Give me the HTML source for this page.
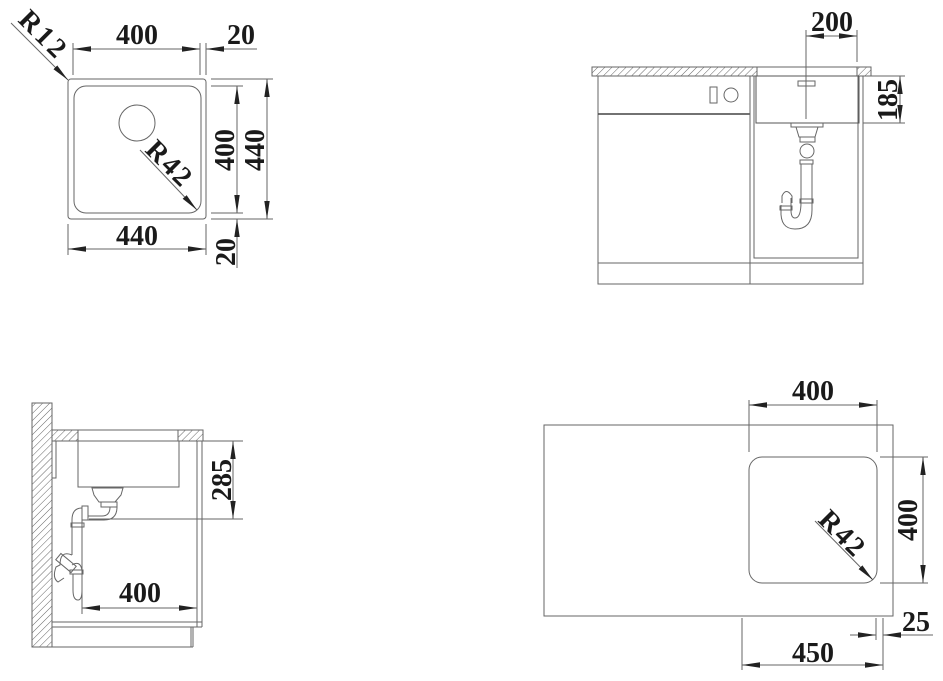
<!DOCTYPE html>
<html><head><meta charset="utf-8"><style>
html,body{margin:0;padding:0;background:#fff;}
svg{display:block;}
text{font-family:"Liberation Serif",serif;font-weight:bold;font-size:28px;fill:#1a1a1a;}
</style></head><body>
<svg width="943" height="681" viewBox="0 0 943 681" xmlns="http://www.w3.org/2000/svg">
<defs>
<marker id="a" markerUnits="userSpaceOnUse" markerWidth="20" markerHeight="8" refX="18" refY="4" orient="auto-start-reverse" viewBox="0 0 20 8">
<path d="M18,4 L0,1.3 L0,6.7 Z" fill="#222"/>
</marker>
<marker id="b" markerUnits="userSpaceOnUse" markerWidth="20" markerHeight="8" refX="18" refY="4" orient="auto" viewBox="0 0 20 8">
<path d="M18,4 L0,1.3 L0,6.7 Z" fill="#222"/>
</marker>
<pattern id="h" patternUnits="userSpaceOnUse" width="5" height="5" patternTransform="rotate(45)">
<line x1="0" y1="0" x2="0" y2="5" stroke="#666" stroke-width="1"/>
</pattern>
</defs>
<g fill="none" stroke="#666" stroke-width="1">
<!-- ===== TOP LEFT ===== -->
<rect x="68" y="79" width="138" height="140" rx="3"/>
<rect x="74" y="86" width="127" height="127" rx="12"/>
<circle cx="137" cy="123" r="18"/>
<line x1="73" y1="43" x2="73" y2="75"/>
<line x1="200" y1="43" x2="200" y2="75"/>
<line x1="206" y1="43" x2="206" y2="75"/>
<line x1="73" y1="49" x2="200" y2="49" marker-start="url(#a)" marker-end="url(#a)"/>
<line x1="206" y1="49" x2="257" y2="49" marker-start="url(#a)"/>
<line x1="11" y1="23" x2="68" y2="80" marker-end="url(#b)"/>
<line x1="140" y1="150" x2="197" y2="210" marker-end="url(#b)"/>
<line x1="211" y1="86" x2="243" y2="86"/>
<line x1="211" y1="213" x2="243" y2="213"/>
<line x1="211" y1="79" x2="273" y2="79"/>
<line x1="211" y1="219" x2="273" y2="219"/>
<line x1="237" y1="86" x2="237" y2="213" marker-start="url(#a)" marker-end="url(#a)"/>
<line x1="267" y1="79" x2="267" y2="219" marker-start="url(#a)" marker-end="url(#a)"/>
<line x1="68" y1="224" x2="68" y2="255"/>
<line x1="206" y1="224" x2="206" y2="255"/>
<line x1="68" y1="249" x2="206" y2="249" marker-start="url(#a)" marker-end="url(#a)"/>
<line x1="237" y1="219" x2="237" y2="268" marker-start="url(#a)"/>

<!-- ===== TOP RIGHT ===== -->
<rect x="592" y="67" width="165" height="9" fill="url(#h)"/>
<rect x="857" y="67" width="14" height="9" fill="url(#h)"/>
<line x1="757" y1="67" x2="857" y2="67"/>
<rect x="598" y="76" width="152" height="208"/>
<line x1="598" y1="114" x2="750" y2="114" stroke="#444" stroke-width="1.5"/>
<line x1="598" y1="263" x2="863" y2="263"/>
<rect x="710" y="87" width="7" height="16"/>
<circle cx="731" cy="95" r="7"/>
<rect x="750" y="76" width="113" height="208"/>
<rect x="754" y="76" width="104" height="182"/>
<rect x="756" y="76" width="103" height="47" stroke="#555"/>
<rect x="798" y="81" width="17" height="5"/>
<line x1="806" y1="30" x2="806" y2="119"/>
<line x1="857" y1="30" x2="857" y2="62"/>
<line x1="806" y1="36" x2="857" y2="36" marker-start="url(#a)" marker-end="url(#a)"/>
<line x1="863" y1="76" x2="905" y2="76"/>
<line x1="863" y1="123" x2="905" y2="123"/>
<line x1="900" y1="76" x2="900" y2="123" marker-start="url(#a)" marker-end="url(#a)"/>
<!-- drain -->
<path d="M791,123 L791,127 L823,127 L823,123"/>
<path d="M796,127 L799,137 L815,137 L818,127"/>
<rect x="800" y="137" width="15" height="5"/>
<circle cx="807" cy="151" r="7"/>
<rect x="800" y="160" width="13" height="4"/>
<path d="M801,164 L801,202 M812,164 L812,210 Q812,229 795,229 Q780,229 781,210 L781,205 M801,202 Q801,218 795,218 Q791,218 791,210 L791,198"/>
<rect x="800" y="199" width="13" height="4"/>
<rect x="780" y="206" width="12" height="4"/>
<path d="M782,203 L782,196 Q786,187 792,196 L792,203"/>

<!-- ===== BOTTOM LEFT ===== -->
<rect x="32" y="403" width="20" height="244" fill="url(#h)"/>
<rect x="52" y="430" width="26" height="11" fill="url(#h)"/>
<rect x="178" y="430" width="25" height="11" fill="url(#h)"/>
<line x1="78" y1="430" x2="178" y2="430"/>
<line x1="52" y1="441" x2="203" y2="441"/>
<rect x="78" y="441" width="101" height="46"/>
<rect x="52" y="441" width="4" height="37"/>
<line x1="197" y1="441" x2="197" y2="627"/>
<line x1="202" y1="441" x2="202" y2="627"/>
<line x1="52" y1="622" x2="202" y2="622"/>
<line x1="52" y1="627" x2="202" y2="627"/>
<line x1="52" y1="647" x2="193" y2="647"/>
<line x1="191" y1="627" x2="191" y2="647"/>
<line x1="193" y1="627" x2="193" y2="647"/>
<line x1="202" y1="441" x2="243" y2="441"/>
<line x1="89" y1="519" x2="243" y2="519"/>
<line x1="233" y1="441" x2="233" y2="519" marker-start="url(#a)" marker-end="url(#a)"/>
<line x1="82" y1="520" x2="82" y2="614"/>
<line x1="82" y1="608" x2="197" y2="608" marker-start="url(#a)" marker-end="url(#a)"/>
<!-- bl drain -->
<path d="M92,488 L123,488 L121,495 L115,502 L99,502 L94,495 Z"/>
<rect x="101" y="502" width="16" height="5"/>
<path d="M117,507 Q117,520 104,520 L88,520 M110,507 Q110,516 102,516 L88,516"/>
<rect x="82" y="506" width="6" height="14"/>
<path d="M82,508 Q72,508 72,520 L72,555 M82,522 L82,607"/>
<rect x="71" y="523" width="13" height="4"/>
<path d="M72,555 Q60,550 60,565 L56,567 Q52,578 58,582 L64,578 M72,565 Q80,560 82,570"/>
<rect x="62" y="553" width="8" height="20" transform="rotate(-50 66 563)"/>
<rect x="70" y="570" width="13" height="4"/>
<path d="M73,574 L73,590 Q73,600 78,600 Q82,600 82,590"/>

<!-- ===== BOTTOM RIGHT ===== -->
<rect x="544" y="425" width="349" height="191"/>
<rect x="749" y="457" width="128" height="126" rx="13"/>
<line x1="749" y1="400" x2="749" y2="452"/>
<line x1="877" y1="400" x2="877" y2="452"/>
<line x1="749" y1="405" x2="877" y2="405" marker-start="url(#a)" marker-end="url(#a)"/>
<line x1="880" y1="457" x2="928" y2="457"/>
<line x1="880" y1="583" x2="928" y2="583"/>
<line x1="923" y1="457" x2="923" y2="583" marker-start="url(#a)" marker-end="url(#a)"/>
<line x1="815" y1="521" x2="873" y2="580" marker-end="url(#b)"/>
<line x1="742" y1="618" x2="742" y2="670"/>
<line x1="883" y1="618" x2="883" y2="670"/>
<line x1="876" y1="618" x2="876" y2="640"/>
<line x1="742" y1="665" x2="883" y2="665" marker-start="url(#a)" marker-end="url(#a)"/>
<line x1="850" y1="635" x2="876" y2="635" marker-end="url(#b)"/>
<line x1="883" y1="635" x2="933" y2="635" marker-start="url(#a)"/>
</g>

<!-- texts -->
<text x="137" y="44" text-anchor="middle">400</text>
<text x="241" y="44" text-anchor="middle">20</text>
<text x="137" y="245" text-anchor="middle">440</text>
<text transform="translate(17,21) rotate(45)" letter-spacing="3">R12</text>
<text transform="translate(144,151) rotate(45)" letter-spacing="2">R42</text>
<text transform="translate(234,150) rotate(-90)" text-anchor="middle">400</text>
<text transform="translate(264,150) rotate(-90)" text-anchor="middle">440</text>
<text transform="translate(235,252) rotate(-90)" text-anchor="middle">20</text>

<text x="832" y="31" text-anchor="middle">200</text>
<text transform="translate(897,100) rotate(-90)" text-anchor="middle">185</text>

<text transform="translate(231,480) rotate(-90)" text-anchor="middle">285</text>
<text x="140" y="602" text-anchor="middle">400</text>

<text x="813" y="400" text-anchor="middle">400</text>
<text transform="translate(917,520) rotate(-90)" text-anchor="middle">400</text>
<text transform="translate(817,521) rotate(45)" letter-spacing="2">R42</text>
<text x="916" y="631" text-anchor="middle">25</text>
<text x="813" y="662" text-anchor="middle">450</text>
</svg>
</body></html>
